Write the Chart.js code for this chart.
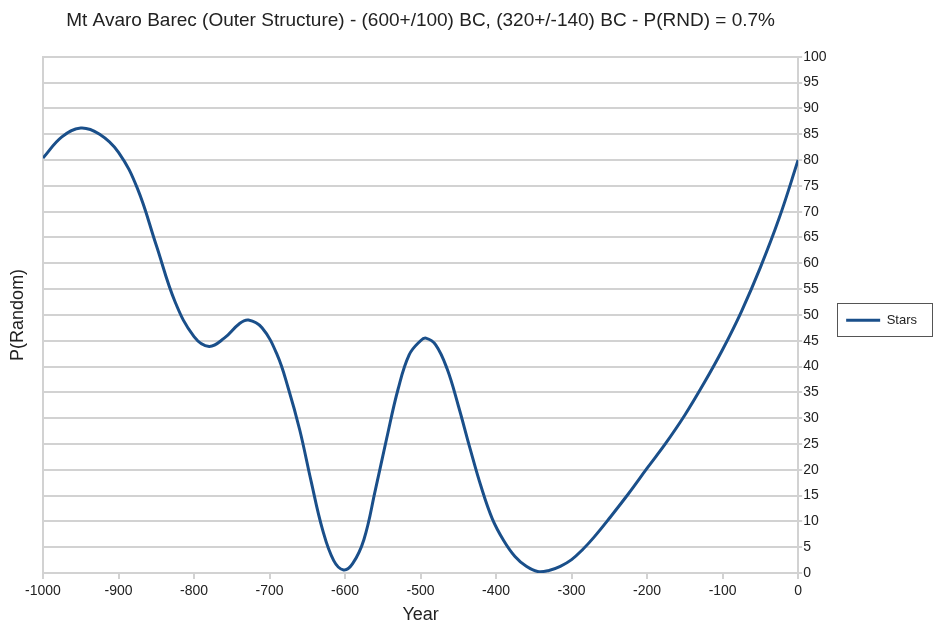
<!DOCTYPE html>
<html>
<head>
<meta charset="utf-8">
<title>Mt Avaro Barec</title>
<script src="https://cdn.jsdelivr.net/npm/chart.js@4.4.1/dist/chart.umd.min.js"></script>
<style>
  html, body { margin: 0; padding: 0; background: #fff; }
  #wrap { width: 934px; height: 627px; }
</style>
</head>
<body>
<div id="wrap"><canvas id="chart" width="934" height="627"></canvas></div>
<script>
// ============================
// DATA
// ============================
const years = [
  -1000, -975, -950, -925, -900, -875, -850, -825, -800, -780,
  -760, -740, -728, -710, -690, -675, -660, -645, -630, -615,
  -602, -590, -575, -560, -545, -530, -515, -500, -493, -480,
  -465, -450, -435, -420, -405, -390, -375, -360, -345, -330,
  -315, -300, -285, -270, -250, -225, -200, -175, -150, -125,
  -100, -75, -50, -25, 0
];
const stars = [
  80.4, 84.5, 86.2, 85.0, 81.5, 74.5, 63.5, 52.5, 45.8, 43.9,
  45.5, 48.3, 49.0, 47.5, 42.3, 35.7, 27.7, 17.8, 8.5, 2.4,
  0.6, 1.8, 6.5, 16.0, 26.0, 35.5, 42.3, 45.0, 45.5, 44.2,
  39.6, 32.4, 24.4, 16.8, 10.5, 6.3, 3.2, 1.3, 0.3, 0.5,
  1.3, 2.6, 4.6, 7.0, 10.6, 15.3, 20.3, 25.2, 30.6, 36.7,
  43.3, 50.7, 59.2, 68.8, 80.0
];
const yearTicks = [-1000, -900, -800, -700, -600, -500, -400, -300, -200, -100, 0];
const pTicks = [0, 5, 10, 15, 20, 25, 30, 35, 40, 45, 50, 55, 60, 65, 70, 75, 80, 85, 90, 95, 100];

const titleText = "Mt Avaro Barec (Outer Structure) - (600+/100) BC, (320+/-140) BC - P(RND) = 0.7%";

const FONT = "'Liberation Sans', Arial, sans-serif";
const GRID = "#d2d2d2";
const LINE = "#1a4f8a";

// ============================
// LEGEND FRAME
// ============================
const legendFrame = {
  id: "legendFrame",
  afterDraw(chart) {
    const lg = chart.legend;
    if (!lg || !lg.legendHitBoxes || !lg.legendHitBoxes.length) return;
    const hb = lg.legendHitBoxes[0];
    const cy = hb.top + hb.height / 2;
    const ctx = chart.ctx;
    ctx.save();
    ctx.strokeStyle = "#555";
    ctx.lineWidth = 1;
    ctx.strokeRect(Math.round(hb.left) - 8.5, Math.round(cy) - 16.5, chart.width - Math.round(hb.left) + 7, 33);
    ctx.restore();
  }
};

// ============================
// CHART
// ============================
const ctx = document.getElementById("chart").getContext("2d");

new Chart(ctx, {
  type: "line",
  data: {
    datasets: [
      {
        label: "Stars",
        data: years.map((x, i) => ({ x: x, y: stars[i] })),
        borderColor: LINE,
        backgroundColor: LINE,
        borderWidth: 3,
        pointRadius: 0,
        tension: 0.4,
        fill: false
      }
    ]
  },
  options: {
    responsive: false,
    animation: false,
    layout: { padding: { left: 0, top: 0, bottom: 0, right: 7 } },
    plugins: {
      title: {
        display: true,
        text: titleText,
        fullSize: false,
        color: "#222",
        font: { family: FONT, size: 19, weight: "normal" },
        padding: { top: 9, bottom: 25 }
      },
      legend: {
        position: "right",
        align: "center",
        fullSize: false,
        title: { display: true, text: " ", padding: 0, font: { size: 9 } },
        labels: {
          usePointStyle: true,
          pointStyle: "line",
          pointStyleWidth: 34,
          color: "#222",
          font: { family: FONT, size: 13 },
          padding: 20
        }
      },
      tooltip: { enabled: false }
    },
    scales: {
      x: {
        type: "linear",
        min: -1000,
        max: 0,
        afterFit: (s) => { s.height = 54; },
        afterBuildTicks: (s) => { s.ticks = yearTicks.map(v => ({ value: v })); },
        ticks: {
          color: "#222",
          font: { family: FONT, size: 14 },
          padding: 4,
          maxRotation: 0,
          callback: (v) => String(v)
        },
        grid: { drawOnChartArea: false, drawTicks: true, tickLength: 6, color: GRID, lineWidth: 2 },
        border: { display: true, color: GRID, width: 2 },
        title: {
          display: true,
          text: "Year",
          color: "#222",
          font: { family: FONT, size: 18 },
          padding: { top: 0, bottom: 1 }
        }
      },
      y: {
        position: "right",
        min: 0,
        max: 100,
        afterFit: (s) => { s.width = 28; },
        afterBuildTicks: (s) => { s.ticks = pTicks.map(v => ({ value: v })); },
        ticks: {
          color: "#222",
          font: { family: FONT, size: 14 },
          padding: 1
        },
        grid: { color: GRID, lineWidth: 2, drawTicks: true, tickLength: 4 },
        border: { display: true, color: GRID, width: 2 }
      },
      yLeft: {
        position: "left",
        min: 0,
        max: 100,
        afterFit: (s) => { s.width = 43; },
        ticks: { display: false },
        grid: { drawOnChartArea: false, drawTicks: false },
        border: { display: true, color: GRID, width: 2 },
        title: {
          display: true,
          text: "P(Random)",
          color: "#222",
          font: { family: FONT, size: 18 },
          padding: { top: 7, bottom: 0 }
        }
      }
    }
  },
  plugins: [legendFrame]
});
</script>
</body>
</html>
